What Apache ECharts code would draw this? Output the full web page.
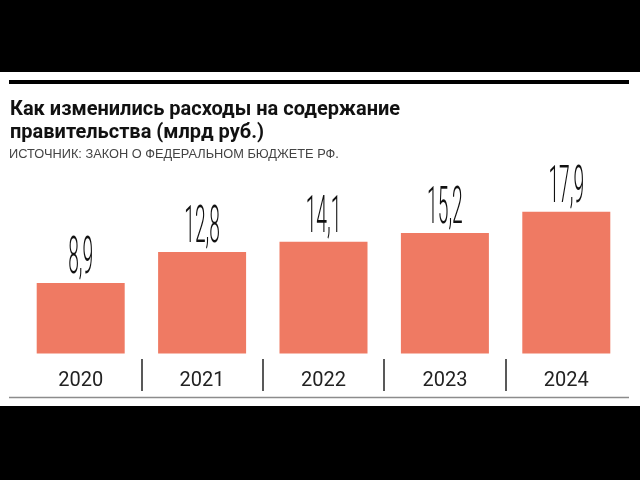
<!DOCTYPE html>
<html>
<head>
<meta charset="utf-8">
<script src="https://cdn.jsdelivr.net/npm/echarts@6/dist/echarts.min.js"></script>
<style>
    html,body{margin:0;padding:0;background:#fff;}
    #main{width:640px;height:480px;}
</style>
</head>
<body>
<div id="main"></div>
<script>
//--------------------数据---------------------------
var yearArray = ['2020', '2021', '2022', '2023', '2024'];      //X轴
var valueArray = [8.9, 12.8, 14.1, 15.2, 17.9];                 //млрд руб.
var labelArray = ['8,9', '12,8', '14,1', '15,2', '17,9'];       //подписи
var titleText = 'Как изменились расходы на содержание\nправительства (млрд руб.)';
var sourceText = 'ИСТОЧНИК: ЗАКОН О ФЕДЕРАЛЬНОМ БЮДЖЕТЕ РФ.';
//--------------------数据---------------------------

var myChart = echarts.init(document.getElementById('main'));

var option = {
    backgroundColor: '#fff',
    animation: false,
    title: [
        {
            text: titleText,
            left: 5,
            top: 93,
            textStyle: {
                fontFamily: 'Roboto',
                fontSize: 20,
                fontWeight: 'bold',
                lineHeight: 23,
                color: '#111'
            }
        },
        {
            text: sourceText,
            left: 4,
            top: 143,
            textStyle: {
                fontFamily: 'Liberation Sans',
                fontSize: 12.8,
                fontWeight: 'normal',
                color: '#444'
            }
        }
    ],
    graphic: [
        {type: 'rect', shape: {x: 0, y: 0, width: 640, height: 72}, style: {fill: '#000'}},
        {type: 'rect', shape: {x: 0, y: 406, width: 640, height: 74}, style: {fill: '#000'}},
        {type: 'rect', shape: {x: 9, y: 80, width: 620, height: 4}, style: {fill: '#000'}},
        {type: 'line', shape: {x1: 9, y1: 397.5, x2: 629, y2: 397.5}, style: {stroke: '#8c8c8c', lineWidth: 1.5}}
    ],
    grid: [
        {left: 20, width: 607, top: 195, height: 158.5},
        {left: 20, width: 607, top: 359, height: 32}
    ],
    xAxis: [
        {
            type: 'category',
            gridIndex: 0,
            data: yearArray,
            axisLine: {show: false},
            axisTick: {show: false},
            axisLabel: {
                margin: 17,
                fontFamily: 'Roboto',
                fontSize: 20,
                color: '#222'
            }
        },
        {
            //разделители между годами
            type: 'value',
            gridIndex: 1,
            min: 0,
            max: yearArray.length,
            interval: 1,
            axisLine: {show: false},
            axisTick: {show: false},
            axisLabel: {show: false},
            splitLine: {
                show: true,
                showMinLine: false,
                showMaxLine: false,
                lineStyle: {color: '#222', width: 1.5}
            }
        }
    ],
    yAxis: [
        {type: 'value', gridIndex: 0, min: 0, max: 20, show: false},
        {type: 'value', gridIndex: 1, min: 0, max: 1, show: false}
    ],
    series: [
        {
            name: 'расходы',
            type: 'bar',
            xAxisIndex: 0,
            yAxisIndex: 0,
            data: valueArray,
            barWidth: 88,
            itemStyle: {color: '#EF7A63'}
        },
        {
            name: 'подписи',
            type: 'custom',
            xAxisIndex: 0,
            yAxisIndex: 0,
            z: 10,
            data: valueArray.map(function (v, i) { return [i, v]; }),
            renderItem: function (params, api) {
                var p = api.coord([api.value(0), api.value(1)]);
                return {
                    type: 'text',
                    x: p[0],
                    y: p[1] + 3,
                    scaleX: 0.37,
                    style: {
                        text: labelArray[params.dataIndex],
                        x: 0,
                        y: 0,
                        align: 'center',
                        verticalAlign: 'bottom',
                        font: '300 52px Roboto',
                        fill: '#111'
                    }
                };
            }
        }
    ]
};

myChart.setOption(option);
</script>
</body>
</html>
